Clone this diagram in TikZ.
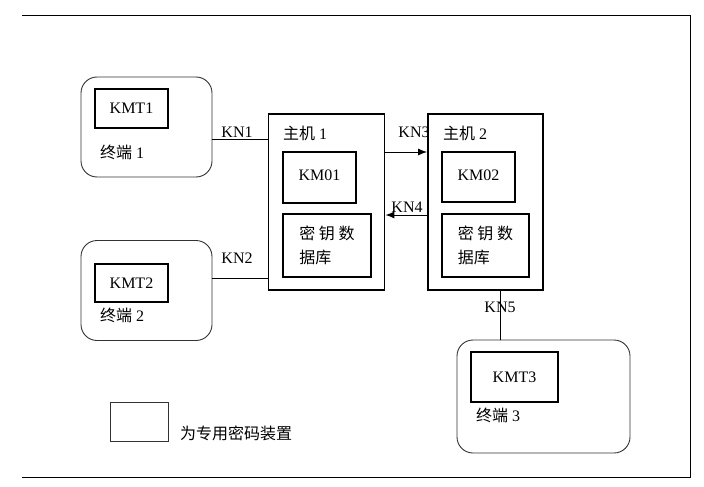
\documentclass[tikz,border=0pt]{standalone}
\usepackage{fontspec}
\setmainfont{Liberation Serif}
\newfontfamily\cjk{Noto Sans CJK SC}
\usetikzlibrary{arrows.meta, calc}

\begin{document}
\begin{tikzpicture}[
    x=1pt, y=-1pt,
    font=\fontsize{16}{24}\selectfont,
    terminal/.style={rectangle, draw=black!80, rounded corners=16pt, line width=0.9pt, minimum width=131pt, minimum height=100pt},
    host/.style={rectangle, draw, line width=1.8pt, minimum width=116pt, minimum height=176pt},
    keybox/.style={rectangle, draw, line width=1.3pt, minimum width=73pt, minimum height=40pt, inner sep=0pt},
    dbbox/.style={rectangle, draw, line width=1.3pt, minimum width=88pt, minimum height=63pt, align=left, inner sep=0pt},
    linktext/.style={inner sep=0pt},
    link/.style={line width=1pt},
    arrow/.style={-{Latex[length=9pt, width=7pt]}, line width=1pt}
]
\useasboundingbox (0,0) rectangle (704,487);

% frame
\draw[line width=0.8pt] (22,15) -- (690,15) -- (690,477) -- (22,477);

% terminals
\node[terminal] (term1) at (146.5,127) {};
\node[keybox, minimum height=39pt] (kmt1) at (131.5,108.5) {KMT1};
\node[linktext, anchor=west] (name1) at (100,152) {{\cjk 终端} 1};

\node[terminal] (term2) at (146.5,290.5) {};
\node[keybox, minimum height=38pt] (kmt2) at (131.5,283) {KMT2};
\node[linktext, anchor=west] (name2) at (100,315) {{\cjk 终端} 2};

\node[terminal, minimum width=173pt, minimum height=113pt] (term3) at (543.5,396.5) {};
\node[keybox, minimum width=87pt, minimum height=50pt, text depth=0pt, inner xsep=0pt] (kmt3) at (514.5,377) {KMT3\hspace{12pt}};
\node[linktext, anchor=west] (name3) at (476,415) {{\cjk 终端} 3};

% hosts
\node[host] (host1) at (326.5,202) {};
\node[linktext, anchor=west] (hname1) at (283,133) {{\cjk 主机} 1};
\node[keybox, minimum height=51pt] (km01) at (319.5,177.5) {\raisebox{4pt}{KM01}};
\node[dbbox] (db1) at (327,245.5) {\cjk 密 钥 数\\\cjk 据库};

\node[host, minimum width=115pt] (host2) at (485.5,202) {};
\node[linktext, anchor=west] (hname2) at (443,133) {{\cjk 主机} 2};
\node[keybox, minimum height=50pt] (km02) at (478.5,177) {\raisebox{4pt}{KM02}};
\node[dbbox, minimum width=87pt] (db2) at (485.5,245.5) {\cjk 密 钥 数\\\cjk 据库};

% links
\coordinate (a1) at ([yshift=-12pt]term1.east);
\coordinate (a2) at ([yshift=12.5pt]term2.east);
\coordinate (a3) at ([yshift=50pt]host1.east);
\coordinate (a4) at ([yshift=-13pt]host2.west);
\coordinate (a5) at ([xshift=14.5pt]host2.south);
\draw[link] (a1) -- (a1 -| host1.west);
\draw[link] (a2) -- (a2 -| host1.west);
\draw[arrow] (a3) -- (a3 -| host2.west);
\draw[arrow] (a4) -- (a4 -| host1.east);
\draw[link] (a5) -- (a5 |- term3.north);

\node[linktext] (kn1) at (237,132) {KN1};
\node[linktext] (kn2) at (237,258) {KN2};
\node[linktext] (kn3) at (414,132) {KN3};
\node[linktext] (kn4) at (407,207) {KN4};
\node[linktext] (kn5) at (500,307) {KN5};

% legend
\node[rectangle, draw=black!80, line width=0.9pt, minimum width=58pt, minimum height=39pt] (legend) at (139,421.5) {};
\node[linktext, anchor=west] (legendtext) at (180,433) {\cjk 为专用密码装置};

\end{tikzpicture}
\end{document}
